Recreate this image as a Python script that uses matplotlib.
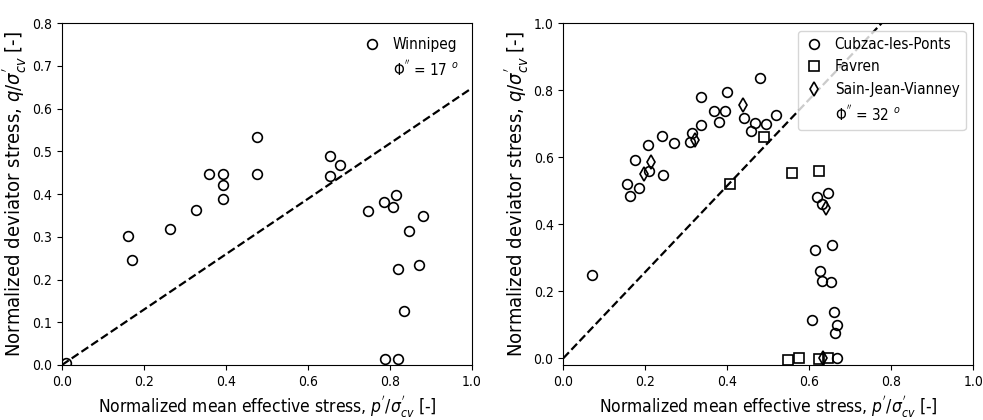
import numpy as np
import matplotlib
matplotlib.use("Agg")
import matplotlib.pyplot as plt

# Winnipeg (left panel)
win_p = [0.010, 0.161, 0.171, 0.263, 0.328, 0.359, 0.392, 0.393, 0.392, 0.475, 0.475,
         0.654, 0.653, 0.679, 0.747, 0.785, 0.814, 0.807, 0.880, 0.847, 0.820, 0.872,
         0.834, 0.788, 0.819]
win_q = [0.005, 0.301, 0.246, 0.318, 0.363, 0.446, 0.446, 0.420, 0.389, 0.534, 0.447,
         0.489, 0.443, 0.468, 0.360, 0.382, 0.398, 0.369, 0.349, 0.313, 0.225, 0.233,
         0.126, 0.015, 0.015]
phi_left = 17

# Cubzac-les-Ponts (right panel)
cub_p = [0.069, 0.156, 0.164, 0.185, 0.176, 0.207, 0.208, 0.241, 0.243, 0.271, 0.308,
         0.313, 0.336, 0.336, 0.368, 0.381, 0.394, 0.400, 0.441, 0.459, 0.468, 0.481,
         0.495, 0.519,
         0.620, 0.630, 0.646, 0.614, 0.655, 0.626, 0.630, 0.653, 0.606, 0.661, 0.669,
         0.662, 0.668]
cub_q = [0.248, 0.521, 0.485, 0.509, 0.592, 0.636, 0.558, 0.663, 0.546, 0.641, 0.646,
         0.673, 0.780, 0.695, 0.738, 0.706, 0.738, 0.795, 0.718, 0.678, 0.702, 0.837,
         0.699, 0.726,
         0.482, 0.459, 0.494, 0.322, 0.338, 0.259, 0.232, 0.229, 0.113, 0.137, 0.100,
         0.075, 0.002]
# Favren
fav_p = [0.489, 0.407, 0.557, 0.625, 0.548, 0.575, 0.623, 0.646]
fav_q = [0.660, 0.519, 0.554, 0.560, -0.004, 0.002, -0.002, 0.002]
# Sain-Jean-Vianney
sjv_p = [0.321, 0.438, 0.215, 0.198, 0.640, 0.634]
sjv_q = [0.651, 0.757, 0.587, 0.549, 0.448, 0.000]
phi_right = 32

plt.rcParams['font.stretch'] = 'condensed'


def slope(phi_deg):
    s = np.sin(np.radians(phi_deg))
    return 6 * s / (3 - s)


fig = plt.figure(figsize=(9.83, 4.20), dpi=100)
ax1 = fig.add_axes([0.063, 0.131, 0.417, 0.814])
ax2 = fig.add_axes([0.573, 0.131, 0.417, 0.814])

mk = dict(linestyle='none', markerfacecolor='none', markeredgecolor='black',
          markeredgewidth=1.2, markersize=7)

xl = r"Normalized mean effective stress, $p^{'}/\sigma^{'}_{cv}$ [-]"
yl = r"Normalized deviator stress, $q/\sigma^{'}_{cv}$ [-]"

# left
ax1.plot(win_p, win_q, marker='o', label='Winnipeg', **mk)
xx = np.array([0, 1])
ax1.plot(xx, slope(phi_left) * xx, 'k--', lw=1.6,
         label=r"$\Phi^{''}$ = 17 $^{o}$")
ax1.set_xlim(0, 1)
ax1.set_ylim(0, 0.8)
ax1.set_xlabel(xl, fontsize=12.5)
ax1.set_ylabel(yl, fontsize=14.5, labelpad=2)
h, l = ax1.get_legend_handles_labels()
leg1 = ax1.legend(h, l, loc='upper right', frameon=False, fontsize=11,
                  handlelength=1.3, handletextpad=0.7)
leg1.legend_handles[1].set_visible(False)

# right
ax2.plot(cub_p, cub_q, marker='o', label='Cubzac-les-Ponts', **mk)
ax2.plot(fav_p, fav_q, marker='s', label='Favren', **mk)
ax2.plot(sjv_p, sjv_q, marker='d', label='Sain-Jean-Vianney', **mk)
ax2.plot(xx, slope(phi_right) * xx, 'k--', lw=1.6,
         label=r"$\Phi^{''}$ = 32 $^{o}$")
ax2.set_xlim(0, 1)
ax2.set_ylim(-0.02, 1.0)
ax2.set_yticks([0.0, 0.2, 0.4, 0.6, 0.8, 1.0])
ax2.set_xlabel(xl, fontsize=12.5)
ax2.set_ylabel(yl, fontsize=14.5, labelpad=2)
h, l = ax2.get_legend_handles_labels()
leg2 = ax2.legend(h, l, loc='upper right', frameon=True, fontsize=11,
                  handlelength=1.3, handletextpad=0.7)
leg2.legend_handles[3].set_visible(False)

for ax in (ax1, ax2):
    ax.tick_params(labelsize=10)

fig.savefig("out.png", dpi=100)
